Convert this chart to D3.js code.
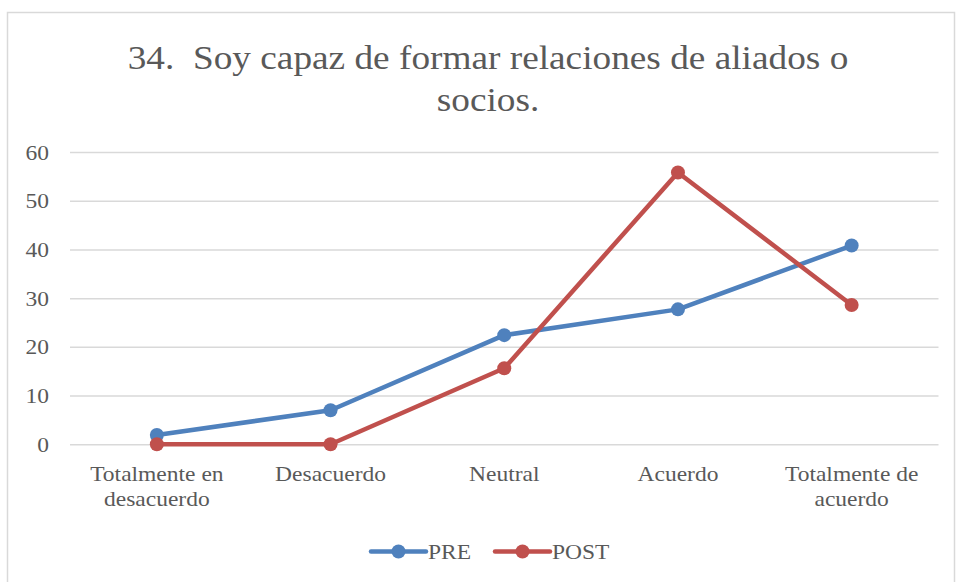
<!DOCTYPE html>
<html><head><meta charset="utf-8">
<script src="https://cdn.jsdelivr.net/npm/d3@7"></script>
<style>body{margin:0;background:#fff}svg{display:block}svg text{font-family:"Liberation Serif","Times New Roman",serif;fill:#595959;white-space:pre}</style>
</head><body>
<script>
const categories = [["Totalmente en","desacuerdo"],["Desacuerdo"],["Neutral"],["Acuerdo"],["Totalmente de","acuerdo"]];
const pre = [1.9, 7.0, 22.4, 27.7, 40.8];
const post = [0, 0, 15.6, 55.8, 28.6];
const yTicks = [0, 10, 20, 30, 40, 50, 60];
const seriesNames = ["PRE", "POST"];
const colors = ["#4f81bd", "#c0504d"];
const titleLines = ["34.  Soy capaz de formar relaciones de aliados o", "socios."];

const W = 956, H = 582;
const FONT = "Liberation Serif, Times New Roman, serif";
const svg = d3.select("body").append("svg").attr("width", W).attr("height", H);
svg.append("rect").attr("x", 7.5).attr("y", 12.5).attr("width", 947).attr("height", 620)
  .attr("fill", "#fff").attr("stroke", "#d9d9d9").attr("stroke-width", 1.5);

const x = d3.scaleBand().domain(d3.range(categories.length)).range([70, 938.5]);
const y = d3.scaleLinear().domain([0, 60]).range([444.3, 152]);
const sx = 1.12;

// title
svg.append("g").selectAll("text").data(titleLines).join("text")
  .attr("transform", (d, i) => `translate(488,${69 + i * 42}) scale(${sx},1)`)
  .attr("text-anchor", "middle").attr("font-family", FONT).attr("font-size", 33.3)
  .attr("xml:space", "preserve").text(d => d);

// grid
const yAxis = d3.axisLeft(y).tickValues(yTicks).tickSize(-(938.5 - 70)).tickFormat(d3.format("d"));
const gy = svg.append("g").attr("transform", "translate(70,0)").call(yAxis);
gy.attr("font-family", FONT);
gy.select(".domain").remove();
gy.selectAll(".tick line").attr("stroke", "#d9d9d9").attr("stroke-width", 1.5);
gy.selectAll(".tick text").attr("x", 0).attr("dy", null).attr("dominant-baseline", "central")
  .attr("text-anchor", "end").attr("font-size", 21)
  .attr("transform", `translate(-21,0) scale(${sx},1)`);

// x labels
const xg = svg.append("g");
categories.forEach((lines, i) => {
  const t = xg.append("text").attr("text-anchor", "middle").attr("font-family", FONT).attr("font-size", 21)
    .attr("transform", `translate(${x(i) + x.bandwidth() / 2},481) scale(${sx},1)`);
  lines.forEach((l, j) => t.append("tspan").attr("x", 0).attr("y", j * 25).text(l));
});

// series
const cx = i => x(i) + x.bandwidth() / 2;
[pre, post].forEach((vals, s) => {
  const line = d3.line().x((d, i) => cx(i)).y(d => y(d));
  svg.append("path").datum(vals).attr("d", line).attr("fill", "none")
    .attr("stroke", colors[s]).attr("stroke-width", 4.5).attr("stroke-linejoin", "round").attr("stroke-linecap", "round");
  svg.append("g").selectAll("circle").data(vals).join("circle")
    .attr("cx", (d, i) => cx(i)).attr("cy", d => y(d)).attr("r", 7).attr("fill", colors[s]);
});

// legend
const legX = [371, 495];
seriesNames.forEach((n, s) => {
  const g = svg.append("g").attr("transform", `translate(${legX[s]},551.5)`);
  g.append("line").attr("x1", 0).attr("x2", 55).attr("stroke", colors[s]).attr("stroke-width", 4.5).attr("stroke-linecap", "round");
  g.append("circle").attr("cx", 27.5).attr("r", 7).attr("fill", colors[s]);
  g.append("text").attr("transform", `translate(57,0) scale(${sx},1)`).attr("dominant-baseline", "central")
    .attr("font-family", FONT).attr("font-size", 21).text(n);
});
</script>
</body></html>
